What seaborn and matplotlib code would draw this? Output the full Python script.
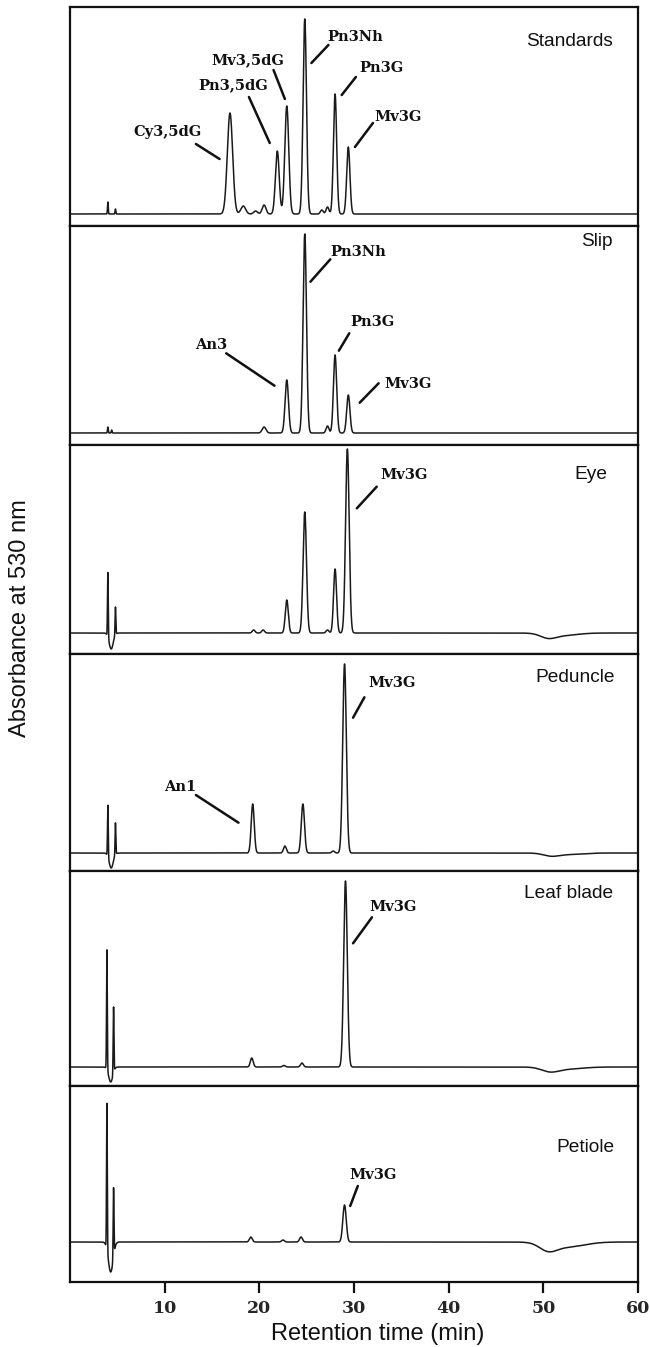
import numpy as np
import pandas as pd
import matplotlib
matplotlib.use("Agg")
import matplotlib.pyplot as plt
import seaborn as sns

# ---------------- data ----------------
panels = ["Standards", "Slip", "Eye", "Peduncle", "Leaf blade", "Petiole"]

# retention time (min), peak height (a.u.), peak width sigma (min)
standards_rt = [4.0, 4.8, 16.9, 18.3, 19.6, 20.5, 21.9, 22.9, 24.8, 26.6, 27.2, 28.0, 29.4]
standards_h = [12, 5, 101, 8, 3, 9, 63, 108, 195, 4, 7, 120, 67]
standards_w = [0.04, 0.04, 0.28, 0.25, 0.2, 0.2, 0.2, 0.21, 0.18, 0.15, 0.15, 0.17, 0.17]

slip_rt = [4.0, 4.4, 20.5, 22.9, 24.8, 27.2, 28.0, 29.4]
slip_h = [6, 3, 6, 53, 199, 7, 78, 38]
slip_w = [0.04, 0.04, 0.2, 0.18, 0.18, 0.15, 0.17, 0.17]

eye_rt = [4.0, 4.35, 4.8, 19.4, 20.4, 22.9, 24.8, 27.2, 28.0, 29.3, 50.5, 52.0]
eye_h = [65, -16, 28, 3, 3, 33, 121, 3, 64, 184, -4, -2.5]
eye_w = [0.04, 0.22, 0.04, 0.15, 0.15, 0.16, 0.18, 0.15, 0.16, 0.19, 0.8, 1.5]

peduncle_rt = [4.0, 4.35, 4.8, 19.3, 22.7, 24.6, 27.8, 29.0, 50.8, 52.5]
peduncle_h = [52, -15, 32, 49, 7, 49, 2, 189, -2.5, -1.5]
peduncle_w = [0.04, 0.22, 0.04, 0.16, 0.15, 0.17, 0.15, 0.19, 0.8, 1.5]

leaf_rt = [3.9, 4.3, 4.6, 19.2, 22.6, 24.5, 29.1, 50.7, 52.5]
leaf_h = [120, -15, 66, 9, 1.5, 4, 186, -4, -2]
leaf_w = [0.04, 0.22, 0.04, 0.15, 0.15, 0.15, 0.19, 0.9, 1.6]

petiole_rt = [3.9, 4.3, 4.6, 19.1, 22.5, 24.4, 29.0, 50.5, 52.5]
petiole_h = [147, -30, 69, 5, 2, 5, 37, -7, -5]
petiole_w = [0.04, 0.25, 0.04, 0.15, 0.15, 0.15, 0.18, 0.9, 1.8]

peak_tables = {
    "Standards": (standards_rt, standards_h, standards_w),
    "Slip": (slip_rt, slip_h, slip_w),
    "Eye": (eye_rt, eye_h, eye_w),
    "Peduncle": (peduncle_rt, peduncle_h, peduncle_w),
    "Leaf blade": (leaf_rt, leaf_h, leaf_w),
    "Petiole": (petiole_rt, petiole_h, petiole_w),
}

peak_names = {
    "Standards": ["Cy3,5dG", "Pn3,5dG", "Mv3,5dG", "Pn3Nh", "Pn3G", "Mv3G"],
    "Slip": ["An3", "Pn3Nh", "Pn3G", "Mv3G"],
    "Eye": ["Mv3G"],
    "Peduncle": ["An1", "Mv3G"],
    "Leaf blade": ["Mv3G"],
    "Petiole": ["Mv3G"],
}

x_ticks = [10, 20, 30, 40, 50, 60]

# ---------------- layout (positions of labels / leader lines) ----------------
# (text_x, text_y, line_x0, line_y0, line_x1, line_y1) in data units
label_layout = {
    "Standards": [(10.35, 82, 13.3, 70, 15.8, 55),
                  (17.2, 129, 18.9, 117, 21.1, 71),
                  (18.8, 154, 21.5, 144, 22.7, 115),
                  (30.1, 177, 27.3, 169, 25.5, 151),
                  (32.9, 146, 30.2, 137, 28.7, 119),
                  (34.7, 97, 32.0, 91, 30.1, 67)],
    "Slip": [(14.9, 88, 16.5, 79.7, 21.6, 47.3),
             (30.5, 181, 27.5, 173.7, 25.4, 151.3),
             (32.0, 111, 29.5, 99.7, 28.4, 82.3),
             (35.7, 49, 32.6, 49.7, 30.6, 30.3)],
    "Eye": [(35.3, 158, 32.4, 146.3, 30.3, 124.7)],
    "Peduncle": [(11.6, 66, 13.3, 58, 17.8, 30.3),
                 (34.0, 170, 31.1, 155.7, 29.9, 135.3)],
    "Leaf blade": [(34.1, 160, 31.9, 149.7, 29.9, 123.7)],
    "Petiole": [(32.0, 67, 30.4, 56, 29.6, 36)],
}
# panel-name placement: (right edge px, offset below panel top px)
name_layout = [(613, 35), (613, 16), (607, 29), (615, 23), (613, 23), (615, 62)]

# panel edges in pixels (from top) and baseline offsets
W, H = 650, 1347
edges = [7, 226, 445, 654, 871, 1086, 1282]
below = [12, 12, 21, 18, 19, 40]
ax_left, ax_right = 70, 638

sns.set_theme(style="white")
plt.rcParams["font.family"] = ["DejaVu Sans"]

fig = plt.figure(figsize=(W / 100, H / 100), dpi=100)

t = np.linspace(0, 60, 12001)
serif = dict(family="DejaVu Serif", weight="bold")

axes = []
for i, name in enumerate(panels):
    top, bot = edges[i], edges[i + 1]
    ax = fig.add_axes([ax_left / W, 1 - bot / H, (ax_right - ax_left) / W, (bot - top) / H])
    axes.append(ax)
    rt, hh, ww = peak_tables[name]
    y = np.zeros_like(t)
    for r, h, w in zip(rt, hh, ww):
        y += h * np.exp(-0.5 * ((t - r) / w) ** 2)
    df = pd.DataFrame({"time": t, "abs": y})
    sns.lineplot(data=df, x="time", y="abs", ax=ax, color="#1a1a1a", lw=1.1, estimator=None)
    ax.set_xlim(0, 60)
    ax.set_ylim(-below[i], (bot - top) - below[i])
    ax.set_xlabel("")
    ax.set_ylabel("")
    ax.set_yticks([])
    for s in ax.spines.values():
        s.set_color("#111111")
        s.set_linewidth(1.6)
    if i < len(panels) - 1:
        ax.set_xticks([])
    else:
        ax.set_xticks(x_ticks)
        ax.set_xticklabels([str(v) for v in x_ticks], fontdict=dict(size=12.5, **serif))
        ax.tick_params(axis="x", direction="out", length=8, width=1.6, color="#111111", pad=5,
                       bottom=True)
    # panel name
    nx, noff = name_layout[i]
    ax.text((nx - ax_left) / (ax_right - ax_left), 1 - noff / (bot - top), name,
            transform=ax.transAxes, ha="right", va="center", fontsize=13.8,
            family="Liberation Sans", color="#111111")
    for lab, lay in zip(peak_names[name], label_layout[name]):
        tx, ty, x0, y0, x1, y1 = lay
        ax.text(tx, ty, lab, ha="center", va="center", fontsize=10.5, color="#111111", **serif)
        ax.annotate("", xy=(x1, y1), xytext=(x0, y0),
                    arrowprops=dict(arrowstyle="-", lw=1.8, color="#111111",
                                    shrinkA=0, shrinkB=0))

fig.text(378 / W, 1 - 1334 / H, "Retention time (min)", ha="center", va="center",
         fontsize=17, family="Liberation Sans", color="#111111")
fig.text(20 / W, 1 - 618 / H, "Absorbance at 530 nm", rotation=90,
         ha="center", va="center", fontsize=17, family="Liberation Sans", color="#111111")

fig.savefig("out.png", dpi=100, facecolor="white")
